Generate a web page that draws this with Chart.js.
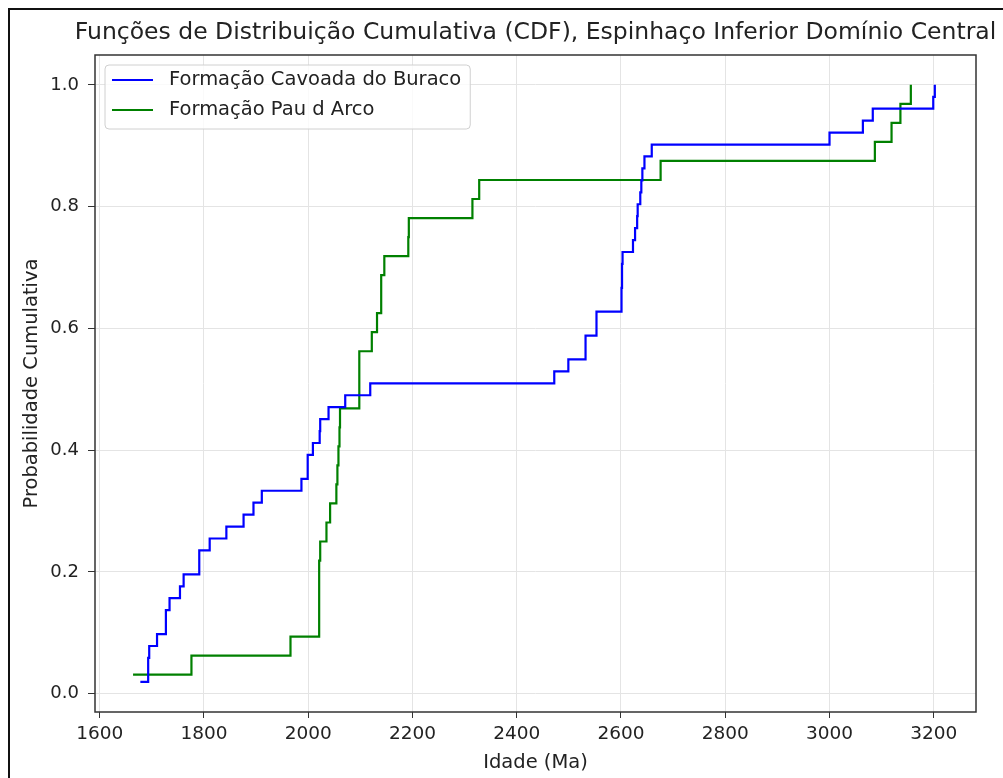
<!DOCTYPE html>
<html>
<head>
<meta charset="utf-8">
<script src="https://cdn.jsdelivr.net/npm/chart.js@4"></script>
<style>
  html, body { margin: 0; padding: 0; background: #fff; }
  #chart { display: block; }
</style>
</head>
<body>
<canvas id="chart" width="1003" height="778"></canvas>
<script>
// sorted ages (Ma)
const cavoadaAges = [
  1678, 1693, 1693, 1695, 1710, 1727, 1727, 1734, 1754, 1761,
  1791, 1791, 1811, 1843, 1876, 1895, 1911, 1987, 1999, 1999,
  2009, 2022, 2023, 2039, 2071, 2119, 2472, 2499, 2532, 2532,
  2553, 2553, 2601, 2601, 2602, 2602, 2603, 2623, 2627, 2631,
  2632, 2637, 2639, 2641, 2645, 2659, 3000, 3064, 3083, 3199,
  3202
];
const pauDArcoAges = [
  1664, 1776, 1966, 2021, 2021, 2021, 2021, 2023, 2035, 2042,
  2054, 2056, 2058, 2060, 2061, 2098, 2098, 2098, 2122, 2132,
  2140, 2140, 2146, 2192, 2193, 2315, 2328, 2676, 3087, 3119,
  3136, 3156
];

const seriesLabels = ["Formação Cavoada do Buraco", "Formação Pau d Arco"];
const seriesColors = ["#0000ff", "#008000"];

const xTicks = [1600, 1800, 2000, 2200, 2400, 2600, 2800, 3000, 3200];
const yTicks = [0.0, 0.2, 0.4, 0.6, 0.8, 1.0];

const titleText = "Funções de Distribuição Cumulativa (CDF), Espinhaço Inferior Domínio Central";
const xTitle = "Idade (Ma)";
const yTitle = "Probabilidade Cumulativa";

const FONT = "'DejaVu Sans', sans-serif";
const TEXT = "#222";

// empirical CDF: each sorted age gets rank / n
const ecdf = (ages) => ages.map((age, i) => ({ x: age, y: (i + 1) / ages.length }));

const frame = {
  id: "frame",
  beforeDraw(chart) {
    const ctx = chart.ctx;
    ctx.save();
    ctx.fillStyle = "#fff";
    ctx.fillRect(0, 0, chart.width, chart.height);
    ctx.strokeStyle = "#111";
    ctx.lineWidth = 2;
    ctx.strokeRect(9, 9, chart.width + 20, chart.height + 20);
    ctx.restore();
  },
  afterDraw(chart) {
    const { ctx, chartArea: a } = chart;
    ctx.save();

    // axes box
    ctx.strokeStyle = "#333";
    ctx.lineWidth = 1.5;
    ctx.strokeRect(a.left, a.top, a.right - a.left, a.bottom - a.top);

    // title
    ctx.fillStyle = TEXT;
    ctx.font = `23.5px ${FONT}`;
    ctx.textAlign = "center";
    ctx.textBaseline = "middle";
    ctx.fillText(titleText, (a.left + a.right) / 2, 33);

    // legend
    ctx.font = `19.5px ${FONT}`;
    const widest = Math.max(...chart.data.datasets.map(d => ctx.measureText(d.label).width));
    const bx = a.left + 10, by = a.top + 10;
    const bw = 64 + widest + 9, bh = 64;
    ctx.beginPath();
    ctx.roundRect(bx, by, bw, bh, 4);
    ctx.fillStyle = "rgba(255,255,255,0.8)";
    ctx.fill();
    ctx.strokeStyle = "#d0d0d0";
    ctx.lineWidth = 1;
    ctx.stroke();

    chart.data.datasets.forEach((d, i) => {
      const y = by + 15 + i * 30;
      ctx.strokeStyle = d.borderColor;
      ctx.lineWidth = 2.2;
      ctx.beginPath();
      ctx.moveTo(bx + 7, y);
      ctx.lineTo(bx + 48, y);
      ctx.stroke();
      ctx.fillStyle = TEXT;
      ctx.textAlign = "left";
      ctx.fillText(d.label, bx + 64, y);
    });
    ctx.restore();
  }
};

new Chart(document.getElementById("chart"), {
  type: "line",
  data: {
    datasets: [
      { label: seriesLabels[0], data: ecdf(cavoadaAges), borderColor: seriesColors[0] },
      { label: seriesLabels[1], data: ecdf(pauDArcoAges), borderColor: seriesColors[1] }
    ]
  },
  options: {
    responsive: false,
    animation: false,
    devicePixelRatio: 1,
    layout: { padding: { top: 55, right: 27, left: 0, bottom: 0 } },
    elements: {
      line: { borderWidth: 2.2, stepped: true, tension: 0, fill: false },
      point: { radius: 0, hoverRadius: 0 }
    },
    plugins: {
      legend: { display: false },
      title: { display: false },
      tooltip: { enabled: false }
    },
    scales: {
      x: {
        type: "linear",
        min: 1591,
        max: 3281,
        afterBuildTicks: (scale) => { scale.ticks = xTicks.map(v => ({ value: v })); },
        afterFit: (scale) => { scale.height = 66; },
        ticks: {
          callback: (v) => String(v),
          color: TEXT,
          font: { family: FONT, size: 18.5 },
          padding: 5,
          maxRotation: 0
        },
        grid: { color: "#e4e4e4", lineWidth: 1, tickColor: "#333", tickLength: 6 },
        border: { display: false },
        title: {
          display: true,
          text: xTitle,
          color: TEXT,
          font: { family: FONT, size: 19.5 },
          padding: { top: 0, bottom: 3 }
        }
      },
      y: {
        type: "linear",
        min: -0.03,
        max: 1.049,
        afterBuildTicks: (scale) => { scale.ticks = yTicks.map(v => ({ value: v })); },
        afterFit: (scale) => { scale.width = 95; },
        ticks: {
          callback: (v) => v.toFixed(1),
          color: TEXT,
          font: { family: FONT, size: 18 },
          padding: 9
        },
        grid: { color: "#e4e4e4", lineWidth: 1, tickColor: "#333", tickLength: 7 },
        border: { display: false },
        title: {
          display: true,
          text: yTitle,
          color: TEXT,
          font: { family: FONT, size: 19.5 },
          padding: { top: 20, bottom: 0 }
        }
      }
    }
  },
  plugins: [frame]
});
</script>
</body>
</html>
